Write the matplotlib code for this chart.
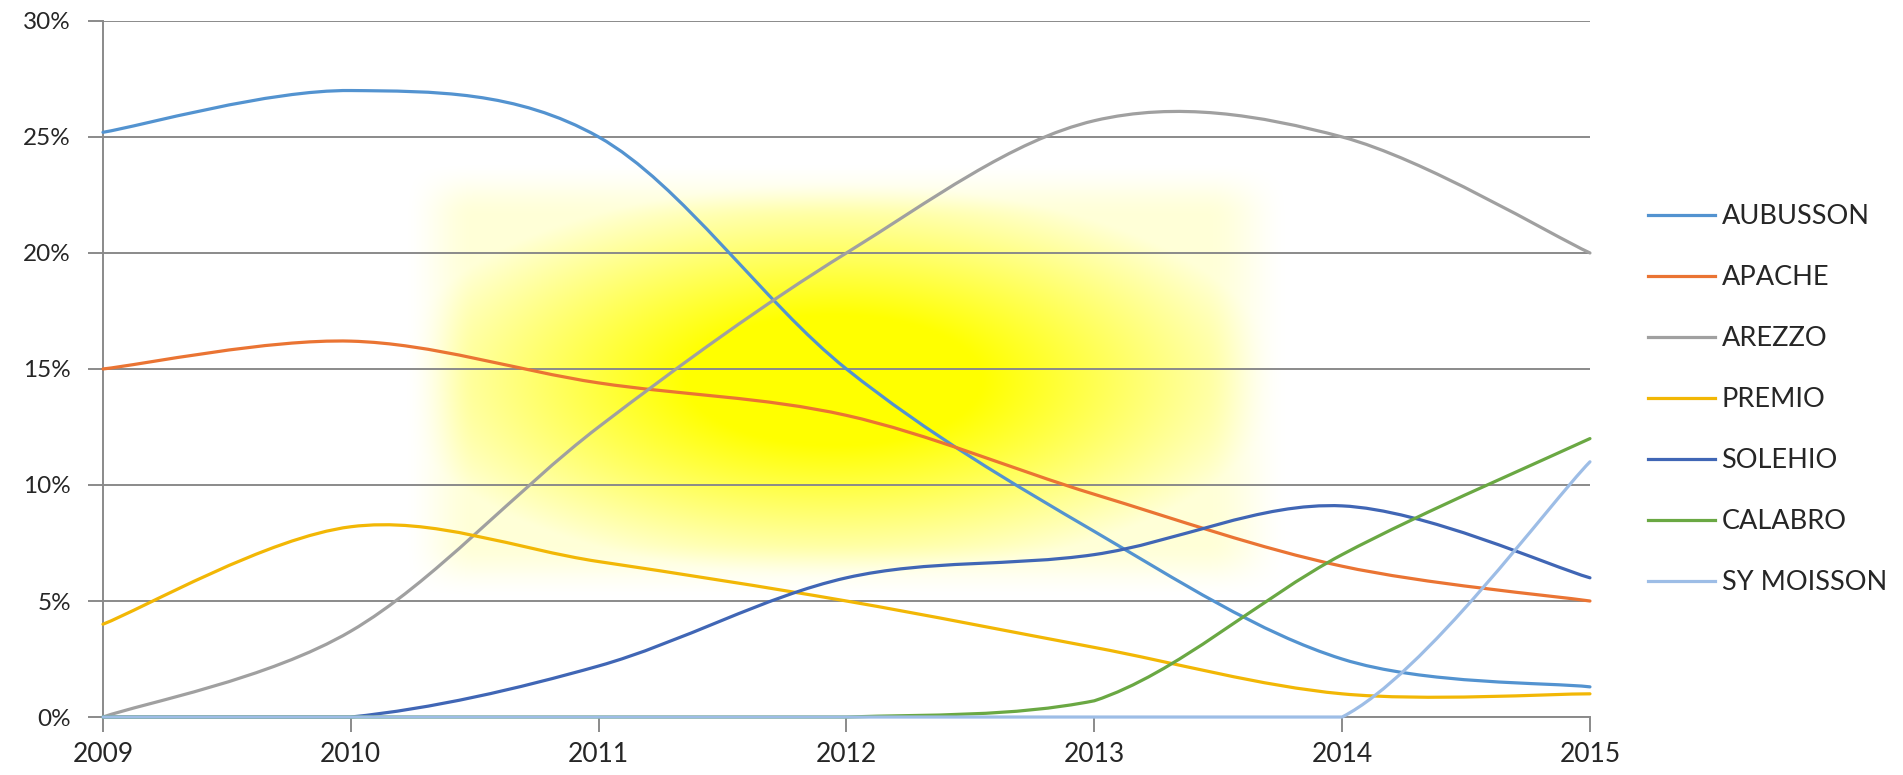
import numpy as np
import matplotlib.pyplot as plt
from matplotlib.path import Path
from matplotlib.patches import PathPatch
from matplotlib.lines import Line2D

# datos (porcentajes por año)
years = [2009, 2010, 2011, 2012, 2013, 2014, 2015]
series_names = ['AUBUSSON', 'APACHE', 'AREZZO', 'PREMIO', 'SOLEHIO', 'CALABRO', 'SY MOISSON']
aubusson = [25.2, 27.0, 25.0, 15.0, 8.0, 2.5, 1.3]
apache = [15.0, 16.2, 14.4, 13.0, 9.6, 6.5, 5.0]
arezzo = [0.0, 3.7, 12.5, 20.0, 25.7, 25.0, 20.0]
premio = [4.0, 8.2, 6.7, 5.0, 3.0, 1.0, 1.0]
solehio = [0.0, 0.0, 2.2, 6.0, 7.0, 9.1, 6.0]
calabro = [0.0, 0.0, 0.0, 0.0, 0.7, 7.0, 12.0]
sy_moisson = [0.0, 0.0, 0.0, 0.0, 0.0, 0.0, 11.0]
y_ticks = [0, 5, 10, 15, 20, 25, 30]

colors = ['#5393d0', '#ea7433', '#a0a0a0', '#f2b705', '#4066b5', '#6aa843', '#9dbde6']
all_series = [aubusson, apache, arezzo, premio, solehio, calabro, sy_moisson]

plt.rcParams['font.family'] = ['Lato', 'DejaVu Sans']

fig = plt.figure(figsize=(19.03, 7.75), dpi=100)
ax = fig.add_axes([0.0541, 0.0748, 0.7814, 0.8982])
ax.set_xlim(2009, 2015)
ax.set_ylim(0, 30)


def smooth_path(xs, ys):
    # curva tipo "linea suavizada" de Excel con segmentos Bezier
    n = len(xs)
    verts = [(xs[0], ys[0])]
    codes = [Path.MOVETO]
    for i in range(n - 1):
        x0, y0 = xs[max(i - 1, 0)], ys[max(i - 1, 0)]
        x1, y1 = xs[i], ys[i]
        x2, y2 = xs[i + 1], ys[i + 1]
        x3, y3 = xs[min(i + 2, n - 1)], ys[min(i + 2, n - 1)]
        c1 = (x1 + (x2 - x0) / 6, max(0, y1 + (y2 - y0) / 6))
        c2 = (x2 - (x3 - x1) / 6, max(0, y2 - (y3 - y1) / 6))
        verts += [c1, c2, (x2, y2)]
        codes += [Path.CURVE4, Path.CURVE4, Path.CURVE4]
    return Path(verts, codes)


# mancha amarilla de fondo
gx = np.linspace(2009, 2015, 700)
gy = np.linspace(0, 30, 350)
X, Y = np.meshgrid(gx, gy)


def sstep(t):
    t = np.clip(t, 0, 1)
    return t * t * (3 - 2 * t)


edge = sstep((X - 2010.2) / 0.3) * sstep((2013.8 - X) / 0.35) * sstep((Y - 5.0) / 2.5) * sstep((24.0 - Y) / 2.5)
r = np.sqrt(((X - 2011.95) / 1.8) ** 2 + ((Y - 14.5) / 8.5) ** 2)
core = np.clip(1.5 * (1 - r), 0, 1)
alpha = edge * (0.16 + 0.84 * core)
img = np.zeros(X.shape + (4,))
img[..., 0] = 1
img[..., 1] = 1
img[..., 3] = alpha
ax.imshow(img, extent=(2009, 2015, 0, 30), origin='lower', aspect='auto', zorder=0.5, interpolation='bilinear')

# cuadricula y ejes
ax.set_yticks(y_ticks)
ax.set_yticklabels([f'{v}%' for v in y_ticks])
ax.set_xticks(years)
ax.set_xticklabels([str(y) for y in years])
ax.grid(axis='y', color='#8a8a8a', linewidth=1.4, zorder=1)
ax.set_axisbelow(True)
for s in ['top', 'right']:
    ax.spines[s].set_visible(False)
ax.spines['left'].set_color('#8a8a8a')
ax.spines['bottom'].set_color('#8a8a8a')
ax.spines['left'].set_linewidth(1.4)
ax.spines['bottom'].set_linewidth(1.4)
ax.tick_params(axis='y', length=11, width=1.4, color='#8a8a8a', labelsize=17.5, pad=12, labelcolor='#262626')
ax.tick_params(axis='x', length=11, width=1.4, color='#8a8a8a', labelsize=19, pad=7, labelcolor='#262626')

handles = []
for name, vals, c in zip(series_names, all_series, colors):
    p = PathPatch(smooth_path(years, vals), facecolor='none', edgecolor=c, linewidth=2.3,
                  capstyle='round', joinstyle='round', zorder=3, clip_on=False)
    ax.add_patch(p)
    handles.append(Line2D([], [], color=c, linewidth=2.3))

fig.legend(handles, series_names, loc='upper left', bbox_to_anchor=(0.853, 0.768),
           frameon=False, fontsize=19.5, handlelength=2.47, handletextpad=0.26,
           labelspacing=1.33, labelcolor='#262626')

fig.savefig('out.png', dpi=100)
